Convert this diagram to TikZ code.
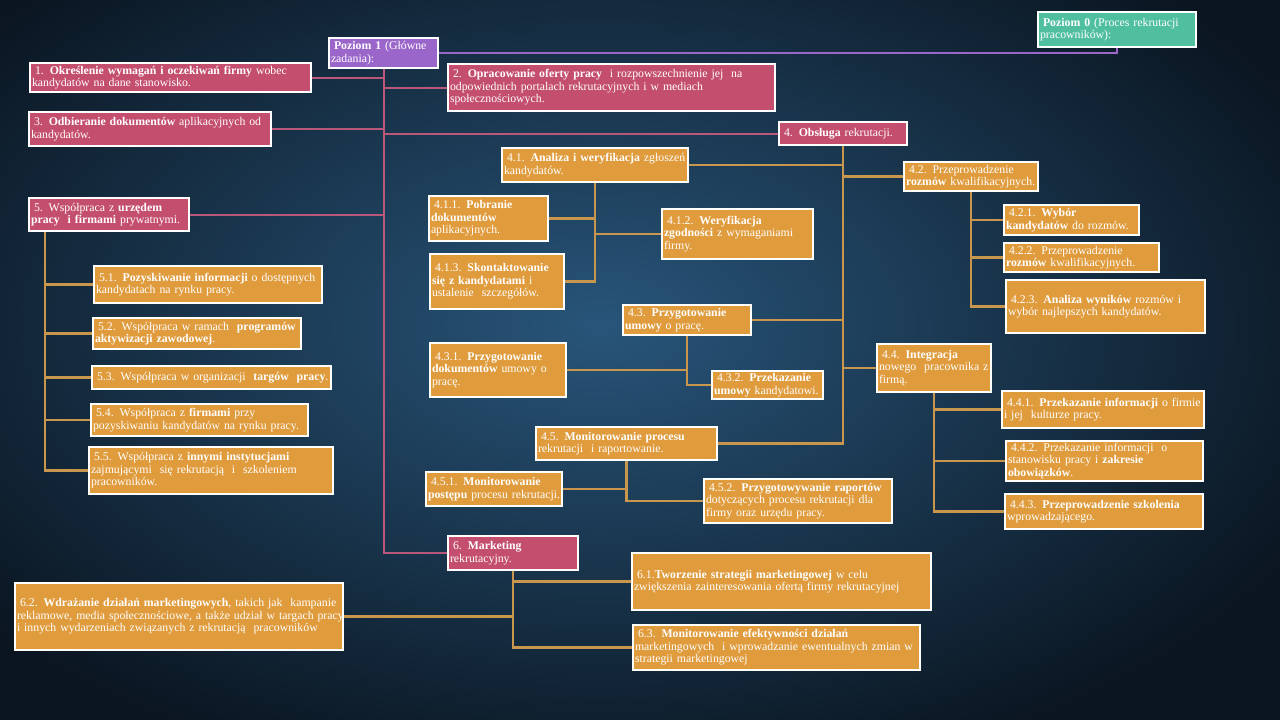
\documentclass[tikz,border=0pt]{standalone}
\usepackage{fontspec}
\setmainfont{Liberation Serif}
\definecolor{pinkf}{HTML}{C44E6E}
\definecolor{orf}{HTML}{DF9B3C}
\definecolor{purf}{HTML}{9B66CA}
\definecolor{tealf}{HTML}{4FBF9F}
\definecolor{pinkl}{HTML}{B9587A}
\definecolor{orl}{HTML}{C8964C}
\definecolor{purl}{HTML}{9A66C8}
\definecolor{bgin}{HTML}{28557A}
\definecolor{bgout}{HTML}{0A1520}
\pgfdeclarelayer{back}
\pgfdeclarelayer{lines}
\pgfsetlayers{back,lines,main}
\tikzset{
 base/.style={draw=white, line width=1.8pt, text=white, align=left, inner xsep=2pt, inner ysep=0pt, font=\fontsize{11.8}{12.6}\selectfont},
 pk/.style={base, fill=pinkf},
 og/.style={base, fill=orf},
 pu/.style={base, fill=purf},
 tl/.style={base, fill=tealf},
 lnpk/.style={draw=pinkl, line width=2pt},
 lnor/.style={draw=orl, line width=2.2pt},
 lnpu/.style={draw=purl, line width=2.4pt},
}
\newcommand\mybox[7]{%
 \pgfmathsetmacro\bxw{#5-#3}\pgfmathsetmacro\bxh{#6-#4}\pgfmathsetmacro\bxt{#5-#3-4}%
 \node[#1, minimum width=\bxw pt, minimum height=\bxh pt, text width=\bxt pt] (#2) at ({(#3+#5)/2},{(#4+#6)/2}) {#7};}
\newcommand\fl{\hspace*{3pt}}
\begin{document}
\begin{tikzpicture}[x=1pt,y=-1pt]
\useasboundingbox (0,0) rectangle (1280,720);
\begin{pgfonlayer}{back}
\shade[inner color=bgin, outer color=bgout] (-200,-150) rectangle (1400,800);
\end{pgfonlayer}

\mybox{tl}{p0}{1038}{12}{1196}{47}{\mbox{\fl\textbf{Poziom 0} (Proces rekrutacji}\\\mbox{pracowników):}}
\mybox{pu}{p1}{329}{38}{438}{68}{\mbox{\fl\textbf{Poziom 1} (Główne}\\\mbox{zadania):}}
\mybox{pk}{b1}{30}{63}{311}{92}{\mbox{\fl 1. \textbf{Określenie wymagań i oczekiwań firmy} wobec}\\\mbox{kandydatów na dane stanowisko.}}
\mybox{pk}{b2}{448}{64}{775}{111}{\mbox{\fl 2. \textbf{Opracowanie oferty pracy}\ \ i rozpowszechnienie jej\ \ na}\\\mbox{odpowiednich portalach rekrutacyjnych i w mediach}\\\mbox{społecznościowych.}}
\mybox{pk}{b3}{29}{112}{271}{146}{\mbox{\fl 3. \textbf{Odbieranie dokumentów} aplikacyjnych od}\\\mbox{kandydatów.}}
\mybox{pk}{b4}{779}{122}{907}{145}{\mbox{\fl 4. \textbf{Obsługa} rekrutacji.}}
\mybox{pk}{b5}{29}{198}{189}{231}{\mbox{\fl 5. Współpraca z \textbf{urzędem}}\\\mbox{\textbf{pracy\ \ i firmami} prywatnymi.}}
\mybox{pk}{b6}{448}{536}{578}{570}{\mbox{\fl 6. \textbf{Marketing}}\\\mbox{rekrutacyjny.}}

\mybox{og}{b41}{502}{148}{688}{182}{\mbox{\fl 4.1. \textbf{Analiza i weryfikacja} zgłoszeń}\\\mbox{kandydatów.}}
\mybox{og}{b411}{429}{196}{548}{241}{\mbox{\fl 4.1.1. \textbf{Pobranie}}\\\mbox{\textbf{dokumentów}}\\\mbox{aplikacyjnych.}}
\mybox{og}{b412}{662}{209}{813}{259}{\mbox{\fl 4.1.2. \textbf{Weryfikacja}}\\\mbox{\textbf{zgodności} z wymaganiami}\\\mbox{firmy.}}
\mybox{og}{b413}{430}{254}{564}{309}{\mbox{\fl 4.1.3. \textbf{Skontaktowanie}}\\\mbox{\textbf{się z kandydatami} i}\\\mbox{ustalenie\ \ szczegółów.}}
\mybox{og}{b42}{904}{162}{1038}{191}{\mbox{\fl 4.2. Przeprowadzenie}\\\mbox{\textbf{rozmów} kwalifikacyjnych.}}
\mybox{og}{b421}{1004}{205}{1139}{235}{\mbox{\fl 4.2.1. \textbf{Wybór}}\\\mbox{\textbf{kandydatów} do rozmów.}}
\mybox{og}{b422}{1004}{243}{1159}{272}{\mbox{\fl 4.2.2. Przeprowadzenie}\\\mbox{\textbf{rozmów} kwalifikacyjnych.}}
\mybox{og}{b423}{1006}{280}{1205}{333}{\mbox{\fl 4.2.3. \textbf{Analiza wyników} rozmów i}\\\mbox{wybór najlepszych kandydatów.}}
\mybox{og}{b43}{623}{305}{751}{335}{\mbox{\fl 4.3. \textbf{Przygotowanie}}\\\mbox{\textbf{umowy} o pracę.}}
\mybox{og}{b431}{430}{343}{566}{397}{\mbox{\fl 4.3.1. \textbf{Przygotowanie}}\\\mbox{\textbf{dokumentów} umowy o}\\\mbox{pracę.}}
\mybox{og}{b432}{712}{371}{823}{399}{\mbox{\fl 4.3.2. \textbf{Przekazanie}}\\\mbox{\textbf{umowy} kandydatowi.}}
\mybox{og}{b44}{877}{344}{991}{392}{\mbox{\fl 4.4. \textbf{Integracja}}\\\mbox{nowego\ \ pracownika z}\\\mbox{firmą.}}
\mybox{og}{b441}{1002}{391}{1204}{428}{\mbox{\fl 4.4.1. \textbf{Przekazanie informacji} o firmie}\\\mbox{i jej\ \ kulturze pracy.}}
\mybox{og}{b442}{1006}{441}{1203}{481}{\mbox{\fl 4.4.2. Przekazanie informacji\ \ o}\\\mbox{stanowisku pracy i \textbf{zakresie}}\\\mbox{\textbf{obowiązków}.}}
\mybox{og}{b443}{1005}{494}{1203}{529}{\mbox{\fl 4.4.3. \textbf{Przeprowadzenie szkolenia}}\\\mbox{wprowadzającego.}}
\mybox{og}{b45}{536}{427}{717}{460}{\mbox{\fl 4.5. \textbf{Monitorowanie procesu}}\\\mbox{rekrutacji\ \ i raportowanie.}}
\mybox{og}{b451}{426}{472}{562}{506}{\mbox{\fl 4.5.1. \textbf{Monitorowanie}}\\\mbox{\textbf{postępu} procesu rekrutacji.}}
\mybox{og}{b452}{704}{479}{892}{523}{\mbox{\fl 4.5.2. \textbf{Przygotowywanie raportów}}\\\mbox{dotyczących procesu rekrutacji dla}\\\mbox{firmy oraz urzędu pracy.}}

\mybox{og}{b51}{94}{266}{322}{303}{\mbox{\fl 5.1. \textbf{Pozyskiwanie informacji} o dostępnych}\\\mbox{kandydatach na rynku pracy.}}
\mybox{og}{b52}{93}{318}{301}{349}{\mbox{\fl 5.2. Współpraca w ramach\ \ \textbf{programów}}\\\mbox{\textbf{aktywizacji zawodowej}.}}
\mybox{og}{b53}{92}{366}{331}{389}{\mbox{\fl 5.3. Współpraca w organizacji\ \ \textbf{targów\ \ pracy}.}}
\mybox{og}{b54}{91}{404}{308}{436}{\mbox{\fl 5.4. Współpraca z \textbf{firmami} przy}\\\mbox{pozyskiwaniu kandydatów na rynku pracy.}}
\mybox{og}{b55}{89}{447}{333}{494}{\mbox{\fl 5.5. Współpraca z \textbf{innymi instytucjami}}\\\mbox{zajmującymi\ \ się rekrutacją\ \ i\ \ szkoleniem}\\\mbox{pracowników.}}

\mybox{og}{b61}{632}{553}{931}{610}{\mbox{\fl 6.1.\textbf{Tworzenie strategii marketingowej} w celu}\\\mbox{zwiększenia zainteresowania ofertą firmy rekrutacyjnej}}
\mybox{og}{b62}{15}{583}{343}{650}{\mbox{\fl 6.2. \textbf{Wdrażanie działań marketingowych}, takich jak\ \ kampanie}\\\mbox{reklamowe, media społecznościowe, a także udział w targach pracy}\\\mbox{i innych wydarzeniach związanych z rekrutacją\ \ pracowników}}
\mybox{og}{b63}{633}{625}{920}{670}{\mbox{\fl 6.3. \textbf{Monitorowanie efektywności działań}}\\\mbox{marketingowych\ \ i wprowadzanie ewentualnych zmian w}\\\mbox{strategii marketingowej}}

\coordinate (t5) at ([xshift=17pt]b5.south west);

\begin{pgfonlayer}{lines}
\draw[lnpu] (p1.east) -| (p0.south);
\draw[lnpk] (p1.south) |- (b6.west);
\draw[lnpk] (b1.east) -- (b1.east -| p1.south);
\draw[lnpk] (b2.west) -- (b2.west -| p1.south);
\draw[lnpk] (b3.east) -- (b3.east -| p1.south);
\draw[lnpk] (b4.west) -- (b4.west -| p1.south);
\draw[lnpk] (b5.east) -- (b5.east -| p1.south);

\draw[lnor] (b4.south) |- (b45.east);
\draw[lnor] (b41.east) -- (b41.east -| b4.south);
\draw[lnor] (b42.west) -- (b42.west -| b4.south);
\draw[lnor] (b43.east) -- (b43.east -| b4.south);
\draw[lnor] (b44.west) -- (b44.west -| b4.south);

\draw[lnor] (b41.south) |- (b413.east);
\draw[lnor] (b411.east) -- (b411.east -| b41.south);
\draw[lnor] (b412.west) -- (b412.west -| b41.south);

\draw[lnor] (b42.south) |- (b423.west);
\draw[lnor] (b421.west) -- (b421.west -| b42.south);
\draw[lnor] (b422.west) -- (b422.west -| b42.south);

\draw[lnor] (b43.south) |- (b432.west);
\draw[lnor] (b431.east) -- (b431.east -| b43.south);

\draw[lnor] (b44.south) |- (b443.west);
\draw[lnor] (b441.west) -- (b441.west -| b44.south);
\draw[lnor] (b442.west) -- (b442.west -| b44.south);

\draw[lnor] (b45.south) |- (b452.west);
\draw[lnor] (b451.east) -- (b451.east -| b45.south);

\draw[lnor] (t5) |- (b55.west);
\draw[lnor] (b51.west) -- (b51.west -| t5);
\draw[lnor] (b52.west) -- (b52.west -| t5);
\draw[lnor] (b53.west) -- (b53.west -| t5);
\draw[lnor] (b54.west) -- (b54.west -| t5);

\draw[lnor] (b6.south) |- (b63.west);
\draw[lnor] (b61.west) -- (b61.west -| b6.south);
\draw[lnor] (b62.east) -- (b62.east -| b6.south);
\end{pgfonlayer}
\end{tikzpicture}
\end{document}
